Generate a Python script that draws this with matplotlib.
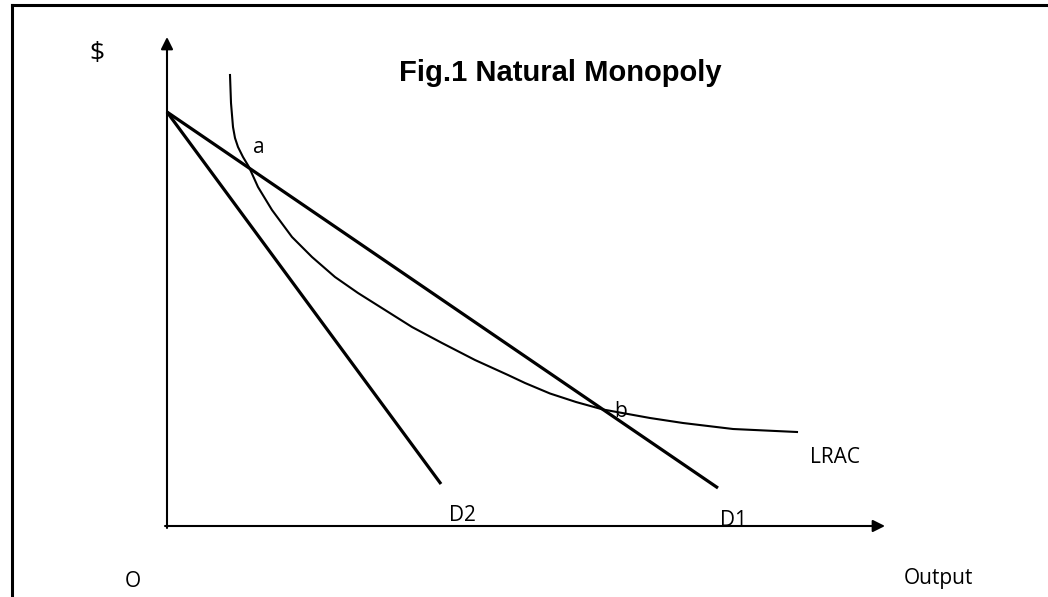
import matplotlib
matplotlib.use("Agg")
import matplotlib.pyplot as plt
from matplotlib.lines import Line2D

# price / quantity diagram, 1 unit = 10 px
price_intercept = 41.4
d1_end = (55.1, 3.8)
d2_end = (27.4, 4.2)

# long-run average cost curve (quantity, cost)
lrac_q = [6.3, 6.4, 6.6, 6.8, 7.1, 7.6, 8.2, 9.1, 10.5, 12.5, 14.5, 16.8, 19.1,
          21.8, 24.5, 27.5, 30.8, 34.1, 35.8, 38.3, 40.9, 43.6, 48.3, 51.6,
          56.6, 63.0]
lrac_c = [45.1, 42.3, 39.9, 38.8, 37.9, 36.9, 35.9, 33.9, 31.6, 28.9, 26.9, 24.9,
          23.3, 21.6, 19.9, 18.3, 16.6, 15.1, 14.3, 13.25, 12.4, 11.65, 10.8,
          10.3, 9.7, 9.4]

q_max = 71.8
p_max = 48.9

fig = plt.figure(figsize=(10.48, 5.97), dpi=100)
ax = fig.add_axes([0, 0, 1, 1])
ax.set_xlim(-16.7, 88.1)
ax.set_ylim(-7.1, 52.6)
ax.axis("off")

# page frame (left and top edges)
fig.add_artist(Line2D([0.0115, 0.0115], [0.0, 0.9916], color="black", lw=2.2))
fig.add_artist(Line2D([0.0115, 1.0], [0.9916, 0.9916], color="black", lw=2.2))

# axes with arrow heads
arrow = dict(arrowstyle="-|>,head_length=0.4,head_width=0.2", lw=1.5,
             color="black", mutation_scale=18, shrinkA=0, shrinkB=0)
ax.annotate("", xy=(q_max, 0), xytext=(-0.2, 0), arrowprops=arrow)
ax.annotate("", xy=(0, p_max), xytext=(0, -0.2), arrowprops=arrow)

# demand curves
ax.plot([0, d1_end[0]], [price_intercept, d1_end[1]], color="black", lw=2.3,
        solid_capstyle="butt")
ax.plot([0, d2_end[0]], [price_intercept, d2_end[1]], color="black", lw=2.3,
        solid_capstyle="butt")

# LRAC
ax.plot(lrac_q, lrac_c, color="black", lw=1.5, solid_joinstyle="round")

lbl = dict(family=["Open Sans", "DejaVu Sans"], fontsize=15, color="black")
ax.text(-7.0, 46.6, "$", ha="center", va="baseline",
        family=["Open Sans", "DejaVu Sans"], fontsize=19, color="black")
ax.text(9.2, 37.3, "a", ha="center", va="baseline", **lbl)
ax.text(45.4, 10.9, "b", ha="center", va="baseline", **lbl)
ax.text(66.8, 6.3, "LRAC", ha="center", va="baseline", **lbl)
ax.text(29.5, 0.5, "D2", ha="center", va="baseline", **lbl)
ax.text(56.7, 0.0, "D1", ha="center", va="baseline", **lbl)
ax.text(-3.4, -6.1, "O", ha="center", va="baseline", **lbl)
ax.text(77.1, -5.8, "Output", ha="center", va="baseline", **lbl)

ax.text(39.3, 44.5, "Fig.1 Natural Monopoly", ha="center", va="baseline",
        family=["Liberation Sans", "DejaVu Sans"], fontsize=21,
        fontweight="bold", color="black")

fig.savefig("out.png", dpi=100, facecolor="white")
